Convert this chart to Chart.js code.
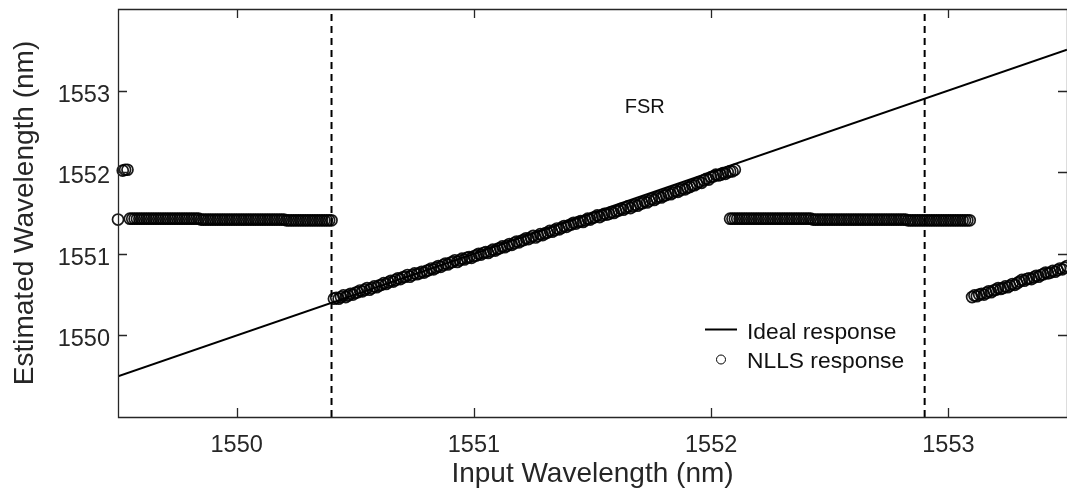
<!DOCTYPE html>
<html>
<head>
<meta charset="utf-8">
<script src="https://cdn.jsdelivr.net/npm/chart.js@4/dist/chart.umd.min.js"></script>
<style>
  html, body { margin: 0; padding: 0; background: #fff; }
  #wrap { width: 1067px; height: 491px; position: relative; }
</style>
</head>
<body>
<div id="wrap"><canvas id="c"></canvas></div>
<script>
const xTicks = [1550, 1551, 1552, 1553];
const yTicks = [1550, 1551, 1552, 1553];
const xRange = [1549.5, 1553.5];
const yRange = [1549, 1554];

const idealX = [1549.5, 1553.5];
const idealY = [1549.5, 1553.5];
const fsrLines = [1550.4, 1552.9];

// stray estimates at the left edge
const edgeX = [1549.50, 1549.52, 1549.53, 1549.54];
const edgeY = [1551.42, 1552.02, 1552.03, 1552.03];

// sweep step of the input wavelength
const step = 0.01;

const flat1Start = 1549.55;
const flat1Y = [
  1551.43,1551.43,1551.43,1551.43,1551.43,1551.43,1551.43,1551.43,1551.43,1551.43,
  1551.43,1551.43,1551.43,1551.43,1551.43,1551.43,1551.43,1551.43,1551.43,1551.43,
  1551.43,1551.43,1551.43,1551.43,1551.43,1551.43,1551.43,1551.43,1551.43,1551.43,
  1551.42,1551.42,1551.42,1551.42,1551.42,1551.42,1551.42,1551.42,1551.42,1551.42,
  1551.42,1551.42,1551.42,1551.42,1551.42,1551.42,1551.42,1551.42,1551.42,1551.42,
  1551.42,1551.42,1551.42,1551.42,1551.42,1551.42,1551.42,1551.42,1551.42,1551.42,
  1551.42,1551.42,1551.42,1551.42,1551.42,1551.42,1551.41,1551.41,1551.41,1551.41,
  1551.41,1551.41,1551.41,1551.41,1551.41,1551.41,1551.41,1551.41,1551.41,1551.41,
  1551.41,1551.41,1551.41,1551.41,1551.41,1551.41
];

const rise1Start = 1550.41;
const rise1Y = [
  1550.45,1550.46,1550.45,1550.47,1550.49,1550.47,1550.49,1550.51,1550.50,1550.52,
  1550.53,1550.55,1550.54,1550.56,1550.58,1550.56,1550.58,1550.60,1550.59,1550.61,
  1550.62,1550.64,1550.63,1550.65,1550.67,1550.66,1550.68,1550.70,1550.69,1550.71,
  1550.72,1550.74,1550.72,1550.74,1550.76,1550.75,1550.76,1550.78,1550.77,1550.79,
  1550.80,1550.82,1550.81,1550.83,1550.85,1550.84,1550.86,1550.88,1550.87,1550.89,
  1550.90,1550.92,1550.90,1550.92,1550.94,1550.93,1550.95,1550.96,1550.95,1550.97,
  1550.98,1551.00,1550.99,1551.01,1551.02,1551.01,1551.03,1551.05,1551.04,1551.06,
  1551.07,1551.09,1551.08,1551.10,1551.12,1551.11,1551.13,1551.15,1551.14,1551.16,
  1551.17,1551.19,1551.18,1551.20,1551.22,1551.20,1551.22,1551.24,1551.23,1551.25,
  1551.26,1551.28,1551.27,1551.29,1551.31,1551.30,1551.32,1551.34,1551.33,1551.35,
  1551.36,1551.38,1551.37,1551.39,1551.40,1551.39,1551.41,1551.43,1551.42,1551.44,
  1551.45,1551.47,1551.45,1551.47,1551.49,1551.48,1551.49,1551.51,1551.50,1551.52,
  1551.53,1551.55,1551.54,1551.56,1551.58,1551.56,1551.58,1551.60,1551.59,1551.61,
  1551.62,1551.64,1551.63,1551.65,1551.67,1551.66,1551.68,1551.70,1551.69,1551.71,
  1551.72,1551.74,1551.73,1551.75,1551.77,1551.76,1551.78,1551.80,1551.79,1551.81,
  1551.82,1551.84,1551.84,1551.86,1551.88,1551.87,1551.90,1551.92,1551.91,1551.94,
  1551.95,1551.97,1551.96,1551.97,1551.99,1551.98,1552.00,1552.01,1552.01,1552.03
];

const flat2Start = 1552.08;
const flat2Y = [
  1551.43,1551.43,1551.43,1551.43,1551.43,1551.43,1551.43,1551.43,1551.43,1551.43,
  1551.43,1551.43,1551.43,1551.43,1551.43,1551.43,1551.43,1551.43,1551.43,1551.43,
  1551.43,1551.43,1551.43,1551.43,1551.43,1551.43,1551.43,1551.43,1551.43,1551.43,
  1551.43,1551.43,1551.43,1551.43,1551.43,1551.42,1551.42,1551.42,1551.42,1551.42,
  1551.42,1551.42,1551.42,1551.42,1551.42,1551.42,1551.42,1551.42,1551.42,1551.42,
  1551.42,1551.42,1551.42,1551.42,1551.42,1551.42,1551.42,1551.42,1551.42,1551.42,
  1551.42,1551.42,1551.42,1551.42,1551.42,1551.42,1551.42,1551.42,1551.42,1551.42,
  1551.42,1551.42,1551.42,1551.42,1551.42,1551.41,1551.41,1551.41,1551.41,1551.41,
  1551.41,1551.41,1551.41,1551.41,1551.41,1551.41,1551.41,1551.41,1551.41,1551.41,
  1551.41,1551.41,1551.41,1551.41,1551.41,1551.41,1551.41,1551.41,1551.41,1551.41,
  1551.41,1551.41
];

const rise2Start = 1553.10;
const rise2Y = [
  1550.47,1550.49,1550.48,1550.50,1550.51,1550.50,1550.52,1550.54,1550.53,1550.55,
  1550.56,1550.58,1550.57,1550.58,1550.60,1550.59,1550.61,1550.63,1550.62,1550.64,
  1550.66,1550.68,1550.67,1550.69,1550.70,1550.69,1550.71,1550.73,1550.72,1550.74,
  1550.75,1550.77,1550.76,1550.77,1550.79,1550.78,1550.80,1550.82,1550.81,1550.83,1550.85
];

const sweep = (start, ys) => ys.map((y, i) => ({x: +(start + i * step).toFixed(3), y}));
const nlls = [
  ...edgeX.map((x, i) => ({x, y: edgeY[i]})),
  ...sweep(flat1Start, flat1Y),
  ...sweep(rise1Start, rise1Y),
  ...sweep(flat2Start, flat2Y),
  ...sweep(rise2Start, rise2Y)
];

const INK = '#262626';
const FONT = '"Liberation Sans", Arial, Helvetica, sans-serif';

const frame = {
  id: 'frame',
  afterDatasetsDraw(chart){
    const {ctx, chartArea: a, scales: {x, y}} = chart;
    ctx.save();
    ctx.strokeStyle = INK;
    ctx.lineWidth = 1.3;
    ctx.beginPath();
    ctx.rect(a.left + 0.5, a.top + 0.5, a.right - a.left, a.bottom - a.top);
    ctx.stroke();

    const tl = 9;
    ctx.beginPath();
    xTicks.forEach(v => {
      const px = Math.round(x.getPixelForValue(v)) + 0.5;
      ctx.moveTo(px, a.bottom); ctx.lineTo(px, a.bottom - tl);
      ctx.moveTo(px, a.top); ctx.lineTo(px, a.top + tl);
    });
    yTicks.forEach(v => {
      const py = Math.round(y.getPixelForValue(v)) + 0.5;
      ctx.moveTo(a.left, py); ctx.lineTo(a.left + tl, py);
      ctx.moveTo(a.right, py); ctx.lineTo(a.right - tl, py);
    });
    ctx.stroke();

    ctx.fillStyle = INK;
    ctx.font = '23.5px ' + FONT;
    ctx.textAlign = 'center';
    ctx.textBaseline = 'alphabetic';
    xTicks.forEach(v => ctx.fillText(String(v), x.getPixelForValue(v), a.bottom + 35));
    ctx.textAlign = 'right';
    yTicks.forEach(v => ctx.fillText(String(v), a.left - 8, y.getPixelForValue(v) + 11));

    ctx.font = '28px ' + FONT;
    ctx.textAlign = 'center';
    ctx.fillText('Input Wavelength (nm)', (a.left + a.right) / 2, 482);
    ctx.save();
    ctx.translate(33, (a.top + a.bottom) / 2);
    ctx.rotate(-Math.PI / 2);
    ctx.fillText('Estimated Wavelength (nm)', 0, 0);
    ctx.restore();

    // FSR label between the dashed lines
    ctx.fillStyle = '#111';
    ctx.font = '20px ' + FONT;
    ctx.fillText('FSR', x.getPixelForValue(1551.72), y.getPixelForValue(1552.72));

    // legend
    ctx.font = '22.8px ' + FONT;
    ctx.textAlign = 'left';
    ctx.strokeStyle = '#000';
    ctx.lineWidth = 2;
    ctx.beginPath();
    ctx.moveTo(705, 329.5); ctx.lineTo(737, 329.5);
    ctx.stroke();
    ctx.fillText('Ideal response', 747, 339);
    ctx.lineWidth = 1;
    ctx.beginPath();
    ctx.arc(721, 359.5, 4.5, 0, Math.PI * 2);
    ctx.stroke();
    ctx.fillText('NLLS response', 747, 368);
    ctx.restore();
  }
};

new Chart(document.getElementById('c'), {
  type: 'scatter',
  data: {
    datasets: [
      {
        label: 'NLLS response',
        data: nlls,
        showLine: false,
        pointStyle: 'circle',
        pointRadius: 5.5,
        pointBorderWidth: 1.7,
        pointBorderColor: 'rgba(0,0,0,0.9)',
        pointBackgroundColor: 'rgba(0,0,0,0)',
        clip: false,
        order: 1
      },
      {
        label: 'Ideal response',
        data: idealX.map((x, i) => ({x, y: idealY[i]})),
        showLine: true,
        borderColor: '#000',
        borderWidth: 2,
        pointRadius: 0,
        order: 2
      },
      ...fsrLines.map(v => ({
        label: 'FSR ' + v,
        data: [{x: v, y: yRange[0]}, {x: v, y: yRange[1]}],
        showLine: true,
        borderColor: '#000',
        borderWidth: 2,
        borderDash: [7, 5],
        pointRadius: 0,
        order: 3
      }))
    ]
  },
  options: {
    responsive: true,
    maintainAspectRatio: false,
    animation: false,
    layout: {autoPadding: false, padding: {left: 118, right: 0, top: 9, bottom: 74}},
    plugins: {legend: {display: false}, tooltip: {enabled: false}},
    scales: {
      x: {type: 'linear', min: xRange[0], max: xRange[1], display: false},
      y: {type: 'linear', min: yRange[0], max: yRange[1], display: false}
    }
  },
  plugins: [frame]
});
</script>
</body>
</html>
